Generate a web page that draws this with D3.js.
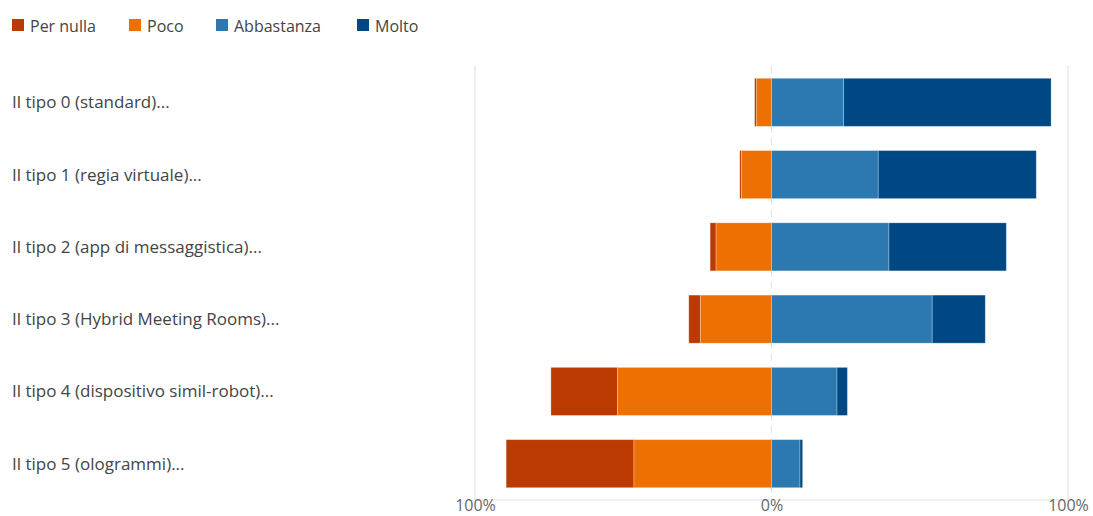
<!DOCTYPE html>
<html><head><meta charset="utf-8">
<script src="https://cdn.jsdelivr.net/npm/d3@7"></script>
<style>body{margin:0;background:#fff;}svg{display:block;font-family:"Open Sans","Noto Sans",sans-serif;}</style>
</head><body><svg id="c" width="1093" height="516"></svg>
<script>
const categories = ["Il tipo 0 (standard)...","Il tipo 1 (regia virtuale)...","Il tipo 2 (app di messaggistica)...","Il tipo 3 (Hybrid Meeting Rooms)...","Il tipo 4 (dispositivo simil-robot)...","Il tipo 5 (ologrammi)..."];
const seriesNames = ["Per nulla","Poco","Abbastanza","Molto"];
const perNulla   = [0.7, 0.6, 2.0, 3.9, 22.5, 43.1];
const poco       = [5.0, 10.1, 18.7, 24.0, 51.9, 46.4];
const abbastanza = [24.3, 36.0, 39.6, 54.2, 22.1, 9.6];
const molto      = [70.0, 53.3, 39.6, 17.9, 3.5, 0.9];
const tickValues = [-100, 0, 100];
const tickLabels = ["100%","0%","100%"];
const colors = ["#BA3A02","#ED7004","#2B79B0","#004883"];

const svg = d3.select("#c");
const x = d3.scaleLinear().domain([-100,100]).range([475,1068]);
const y = d3.scaleBand().domain(categories).range([66,500]).paddingInner(0.335).paddingOuter(0.17);

// gridlines
svg.append("g").selectAll("line").data(tickValues).join("line")
  .attr("x1",d=>x(d)).attr("x2",d=>x(d)).attr("y1",66).attr("y2",500)
  .attr("stroke","#e3e3e3").attr("stroke-width",1.2)
  .attr("stroke-dasharray",d=>d===0?"7,5":null);
svg.append("line").attr("x1",x(-100)).attr("x2",x(100)).attr("y1",500).attr("y2",500)
  .attr("stroke","#e6e6e6").attr("stroke-width",1.2);

// bars
const rows = categories.map((c,i)=>{
  const segs = [];
  let left = -(perNulla[i]+poco[i]);
  segs.push({c, s:0, x0:left, x1:left+perNulla[i]});
  segs.push({c, s:1, x0:-poco[i], x1:0});
  segs.push({c, s:2, x0:0, x1:abbastanza[i]});
  segs.push({c, s:3, x0:abbastanza[i], x1:abbastanza[i]+molto[i]});
  return segs;
}).flat();
svg.append("g").selectAll("rect").data(rows).join("rect")
  .attr("x",d=>x(d.x0)).attr("width",d=>x(d.x1)-x(d.x0))
  .attr("y",d=>y(d.c)).attr("height",y.bandwidth())
  .attr("fill",d=>colors[d.s])
  .attr("stroke","rgba(255,255,255,0.35)").attr("stroke-width",0.8);

// category labels
svg.append("g").selectAll("text").data(categories).join("text")
  .attr("x",12).attr("y",d=>y(d)+y.bandwidth()/2).attr("dy","0.35em")
  .attr("font-size",17).attr("fill","#444").text(d=>d);

// axis
const axis = d3.axisBottom(x).tickValues(tickValues).tickFormat((d,i)=>tickLabels[i]).tickSize(0).tickPadding(0);
const ag = svg.append("g").attr("transform","translate(0,500)").call(axis);
ag.select(".domain").remove();
ag.selectAll("text").attr("font-size",16).attr("fill","#666").attr("dy","0").attr("y",11)
  .attr("font-family","'Open Sans',sans-serif");

// legend
const legendX = [12,129,216,357];
const lg = svg.append("g").selectAll("g").data(seriesNames).join("g")
  .attr("transform",(d,i)=>`translate(${legendX[i]},19)`);
lg.append("rect").attr("width",12).attr("height",12).attr("fill",(d,i)=>colors[i]);
lg.append("text").attr("x",18).attr("y",12.5).attr("font-size",16).attr("fill","#444").text(d=>d);
</script></body></html>
